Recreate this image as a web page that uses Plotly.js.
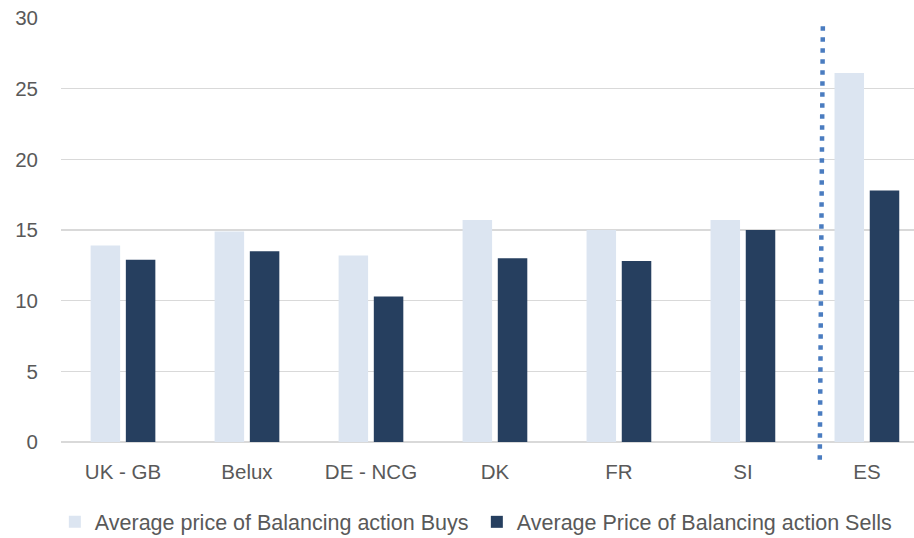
<!DOCTYPE html>
<html>
<head>
<meta charset="utf-8">
<script src="https://cdn.plot.ly/plotly-3.0.1.min.js"></script>
<style>html,body{margin:0;padding:0;background:#fff;}#chart{width:914px;height:538px;}</style>
</head>
<body>
<div id="chart"></div>
<script>
const categories = ["UK - GB", "Belux", "DE - NCG", "DK", "FR", "SI", "ES"];
const buys = [13.9, 14.9, 13.2, 15.7, 15.0, 15.7, 26.1];
const sells = [12.9, 13.5, 10.3, 13.0, 12.8, 15.0, 17.8];
const seriesNames = ["Average price of Balancing action Buys", "Average Price of Balancing action Sells"];
const yTicks = [0, 5, 10, 15, 20, 25, 30];

const tickFont = {family: "Liberation Sans, Arial, sans-serif", size: 20.5, color: "#595959"};
const legendFont = {family: "Liberation Sans, Arial, sans-serif", size: 21.5, color: "#595959"};

const traces = [
  {type: "bar", name: seriesNames[0], x: categories, y: buys, marker: {color: "#dce5f1"}, hoverinfo: "x+y"},
  {type: "bar", name: seriesNames[1], x: categories, y: sells, marker: {color: "#263f5f"}, hoverinfo: "x+y"}
];

const layout = {
  width: 914, height: 538,
  margin: {l: 61, r: 0, t: 18, b: 96},
  paper_bgcolor: "#ffffff", plot_bgcolor: "#ffffff",
  font: tickFont,
  barmode: "group", bargap: 0.432, bargroupgap: 0.162,
  showlegend: true,
  legend: {orientation: "h", xref: "container", yref: "container", x: 0.06, xanchor: "left",
           y: 0.03, yanchor: "middle", font: legendFont, itemwidth: 30, entrywidth: 377,
           tracegroupgap: 0, bgcolor: "rgba(0,0,0,0)"},
  xaxis: {type: "category", range: [-0.5, 6.38], showgrid: false, zeroline: false, automargin: false,
          showline: false, ticks: "", tickfont: tickFont, ticklabelstandoff: 15, fixedrange: true},
  yaxis: {range: [0, 30], tickvals: yTicks, ticktext: yTicks.map(String), showgrid: true, automargin: false,
          gridcolor: "#d9d9d9", gridwidth: 1.5, zeroline: true, zerolinecolor: "#d9d9d9", zerolinewidth: 1.5,
          showline: false, ticks: "", tickfont: tickFont, ticklabelstandoff: 22, fixedrange: true},
  shapes: [
    {type: "line", xref: "x", yref: "paper", x0: 5.62, x1: 5.645, y0: -0.042, y1: 0.99,
     line: {color: "#4a7cc0", width: 4.5, dash: "4.5px,6.5px"}}
  ]
};

Plotly.newPlot("chart", traces, layout, {displayModeBar: false, staticPlot: true});
</script>
</body>
</html>
